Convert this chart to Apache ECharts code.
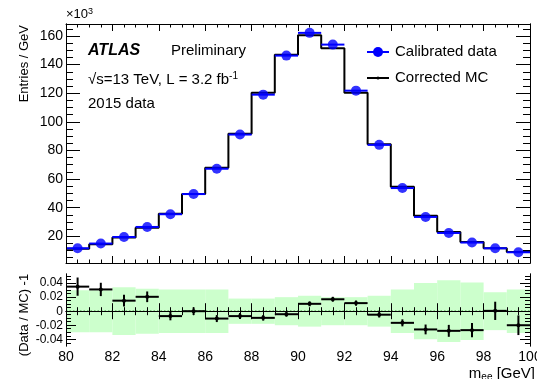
<!DOCTYPE html>
<html>
<head>
<meta charset="utf-8">
<script src="https://cdn.jsdelivr.net/npm/echarts@6/dist/echarts.min.js"></script>
<style>
  html, body { margin: 0; padding: 0; background: #fff; }
  #mee-chart { width: 537px; height: 379px; }
</style>
</head>
<body>
<div id="mee-chart"></div>
<script>
// bin centres in GeV (1 GeV bins from 80 to 100)
const binCenters = [80.5, 81.5, 82.5, 83.5, 84.5, 85.5, 86.5, 87.5, 88.5, 89.5,
  90.5, 91.5, 92.5, 93.5, 94.5, 95.5, 96.5, 97.5, 98.5, 99.5];
// entries / GeV, x10^3
const dataCounts = [11.6, 14.9, 19.5, 26.5, 35.4, 49.5, 67.2, 91.1, 119.0, 146.3,
  162.2, 154.0, 121.8, 83.9, 53.7, 33.5, 22.3, 15.6, 11.6, 8.8];
const mcCounts = [11.2, 14.45, 19.2, 26.0, 35.65, 49.5, 67.9, 91.7, 120.3, 146.9,
  160.5, 151.4, 120.4, 84.3, 54.6, 34.4, 22.9, 16.0, 11.6, 9.0];
// lower panel: Data/MC - 1
const ratioValues = [0.035, 0.031, 0.015, 0.0205, -0.007, 0.0, -0.0105, -0.007, -0.0095, -0.0043,
  0.0105, 0.017, 0.0115, -0.005, -0.0166, -0.026, -0.028, -0.027, 0.0005, -0.020];
const ratioErrors = [0.013, 0.0095, 0.0083, 0.0076, 0.006, 0.0055, 0.005, 0.0043, 0.004, 0.0036,
  0.0035, 0.0035, 0.0036, 0.004, 0.005, 0.007, 0.0085, 0.01, 0.013, 0.014];
// half width of the MC uncertainty band
const bandHalf = [0.03, 0.03, 0.034, 0.032, 0.031, 0.031, 0.031, 0.018, 0.018, 0.02,
  0.022, 0.02, 0.02, 0.022, 0.031, 0.04, 0.044, 0.041, 0.027, 0.031];

const yTicksTop = [20, 40, 60, 80, 100, 120, 140, 160];
const yMinorTop = [5, 10, 15, 25, 30, 35, 45, 50, 55, 65, 70, 75, 85, 90, 95, 105, 110, 115,
  125, 130, 135, 145, 150, 155, 165];
const yTicksBottom = [-0.04, -0.02, 0, 0.02, 0.04];
const yMinorBottom = [-0.045, -0.035, -0.03, -0.025, -0.015, -0.01, -0.005,
  0.005, 0.01, 0.015, 0.025, 0.03, 0.035, 0.045, 0.05];

const FONT = "'Liberation Sans', Arial, Helvetica, sans-serif";

const chart = echarts.init(document.getElementById("mee-chart"));

function xAx(grid, pos, showLabel, major, minor) {
  return {
    type: "value", gridIndex: grid, position: pos, min: 80, max: 100, interval: 2, z: 5,
    axisLine: { show: true, lineStyle: { color: "#000", width: 1 } },
    axisTick: { show: true, inside: true, length: major, lineStyle: { color: "#000" } },
    minorTick: { show: true, splitNumber: 4, length: minor, lineStyle: { color: "#000" } },
    splitLine: { show: false },
    axisLabel: { show: showLabel, color: "#000", fontSize: 14, fontFamily: FONT, margin: 4 }
  };
}

function yAx(grid, pos, min, max, ticks, len, label, fontSize) {
  return {
    type: "value", gridIndex: grid, position: pos, min: min, max: max, z: 5,
    axisLine: { show: true, lineStyle: { color: "#000", width: 1 } },
    axisTick: { show: true, inside: true, length: len, customValues: ticks, lineStyle: { color: "#000" } },
    splitLine: { show: false },
    axisLabel: {
      show: !!label, customValues: ticks, color: "#000", fontSize: fontSize, fontFamily: FONT, margin: 3
    }
  };
}

const stepData = binCenters.map((c, i) => [c - 0.5, mcCounts[i]]);
stepData.push([100, mcCounts[mcCounts.length - 1]]);

let option = {
  animation: false,
  grid: [
    { left: 66, top: 24, width: 464, height: 239, outerBoundsMode: "none", containLabel: false },
    { left: 66, top: 274, width: 464, height: 72, outerBoundsMode: "none", containLabel: false }
  ],
  xAxis: [
    xAx(0, "bottom", false, 7, 3.5),
    xAx(0, "top", false, 7, 3.5),
    xAx(1, "bottom", true, 8, 4),
    xAx(1, "top", false, 8, 4)
  ],
  yAxis: [
    yAx(0, "left", 1.3, 168.4, yTicksTop, 14, true, 14),
    yAx(0, "left", 1.3, 168.4, yMinorTop, 7, false),
    yAx(0, "right", 1.3, 168.4, yTicksTop, 14, false),
    yAx(0, "right", 1.3, 168.4, yMinorTop, 7, false),
    yAx(1, "left", -0.0496, 0.053, yTicksBottom, 10, true, 12),
    yAx(1, "left", -0.0496, 0.053, yMinorBottom, 5, false),
    yAx(1, "right", -0.0496, 0.053, yTicksBottom, 10, false),
    yAx(1, "right", -0.0496, 0.053, yMinorBottom, 5, false)
  ],
  series: [
    {
      name: "Corrected MC", type: "line", step: "end", xAxisIndex: 0, yAxisIndex: 0,
      symbol: "none", data: stepData, z: 2,
      lineStyle: { color: "#000", width: 2 }
    },
    {
      name: "data bars", type: "custom", xAxisIndex: 0, yAxisIndex: 0, z: 3,
      data: binCenters.map((c, i) => [c, dataCounts[i]]),
      encode: { x: 0, y: 1 },
      renderItem(params, api) {
        const x = api.value(0), y = api.value(1);
        const a = api.coord([x - 0.5, y]), b = api.coord([x + 0.5, y]);
        return { type: "line", shape: { x1: a[0], y1: a[1], x2: b[0], y2: b[1] },
          style: { stroke: "#0000ff", lineWidth: 2 } };
      }
    },
    {
      name: "Calibrated data", type: "scatter", xAxisIndex: 0, yAxisIndex: 0, z: 4,
      symbol: "circle", symbolSize: 10,
      itemStyle: { color: "#0000ff" },
      data: binCenters.map((c, i) => [c, dataCounts[i]])
    },
    {
      name: "band", type: "custom", xAxisIndex: 2, yAxisIndex: 4, z: 1,
      data: binCenters.map((c, i) => [c, bandHalf[i]]),
      encode: { x: 0, y: 1 },
      renderItem(params, api) {
        const x = api.value(0), h = api.value(1);
        const a = api.coord([x - 0.5, h]), b = api.coord([x + 0.5, -h]);
        return { type: "rect", shape: { x: a[0], y: a[1], width: b[0] - a[0], height: b[1] - a[1] },
          style: { fill: "#ccffcc" } };
      }
    },
    {
      name: "zero", type: "line", xAxisIndex: 2, yAxisIndex: 4, symbol: "none", z: 2,
      data: [[80, 0], [100, 0]],
      lineStyle: { color: "#2f8f2f", width: 1.5, type: [1.5, 2] }
    },
    {
      name: "ratio", type: "custom", xAxisIndex: 2, yAxisIndex: 4, z: 3,
      data: binCenters.map((c, i) => [c, ratioValues[i], ratioErrors[i]]),
      encode: { x: 0, y: 1 },
      renderItem(params, api) {
        const x = api.value(0), y = api.value(1), e = api.value(2);
        const l = api.coord([x - 0.5, y]), r = api.coord([x + 0.5, y]);
        const t = api.coord([x, y + e]), bt = api.coord([x, y - e]);
        const st = { stroke: "#000", lineWidth: 2 };
        return { type: "group", children: [
          { type: "line", shape: { x1: l[0], y1: l[1], x2: r[0], y2: r[1] }, style: st },
          { type: "line", shape: { x1: t[0], y1: t[1], x2: bt[0], y2: bt[1] }, style: st },
          { type: "circle", shape: { cx: l[0] + (r[0] - l[0]) / 2, cy: l[1], r: 2 }, style: { fill: "#000" } }
        ] };
      }
    }
  ],
  graphic: [
    { type: "text", left: 66, top: 7, style: {
      text: "×10{s|3}", font: "13px " + FONT, fill: "#000",
      rich: { s: { fontSize: 9, verticalAlign: "top", padding: [0, 0, 6, 0] } } } },
    { type: "text", x: 24, y: 25, rotation: Math.PI / 2, style: {
      text: "Entries / GeV", font: "13px " + FONT, fill: "#000", align: "right", verticalAlign: "middle" } },
    { type: "text", x: 24, y: 315, rotation: Math.PI / 2, style: {
      text: "(Data / MC) -1", font: "13px " + FONT, fill: "#000", align: "center", verticalAlign: "middle" } },
    { type: "text", x: 88, y: 51, style: {
      text: "ATLAS", font: "italic bold 16px " + FONT, fill: "#000", verticalAlign: "middle" } },
    { type: "text", x: 171, y: 51, style: {
      text: "Preliminary", font: "15px " + FONT, fill: "#000", verticalAlign: "middle" } },
    { type: "text", x: 88, y: 71, style: {
      text: "√s=13 TeV, L = 3.2 fb{s|-1}", font: "15px " + FONT, fill: "#000",
      rich: { s: { fontSize: 10, padding: [0, 0, 8, 0] } } } },
    { type: "text", x: 88, y: 104, style: {
      text: "2015 data", font: "15px " + FONT, fill: "#000", verticalAlign: "middle" } },
    { type: "line", shape: { x1: 367, y1: 52, x2: 389, y2: 52 }, style: { stroke: "#0000ff", lineWidth: 2 } },
    { type: "circle", shape: { cx: 378, cy: 52, r: 5 }, style: { fill: "#0000ff" } },
    { type: "text", x: 395, y: 52, style: {
      text: "Calibrated data", font: "15px " + FONT, fill: "#000", verticalAlign: "middle" } },
    { type: "line", shape: { x1: 367, y1: 78, x2: 389, y2: 78 }, style: { stroke: "#000", lineWidth: 2 } },
    { type: "circle", shape: { cx: 378, cy: 78, r: 1.5 }, style: { fill: "#000" } },
    { type: "text", x: 395, y: 78, style: {
      text: "Corrected MC", font: "15px " + FONT, fill: "#000", verticalAlign: "middle" } },
    { type: "text", x: 535, y: 366, style: {
      text: "m{s|ee} [GeV]", font: "15px " + FONT, fill: "#000", align: "right",
      rich: { s: { fontSize: 10, padding: [6, 0, 0, 0] } } } }
  ]
};

chart.setOption(option);
</script>
</body>
</html>
